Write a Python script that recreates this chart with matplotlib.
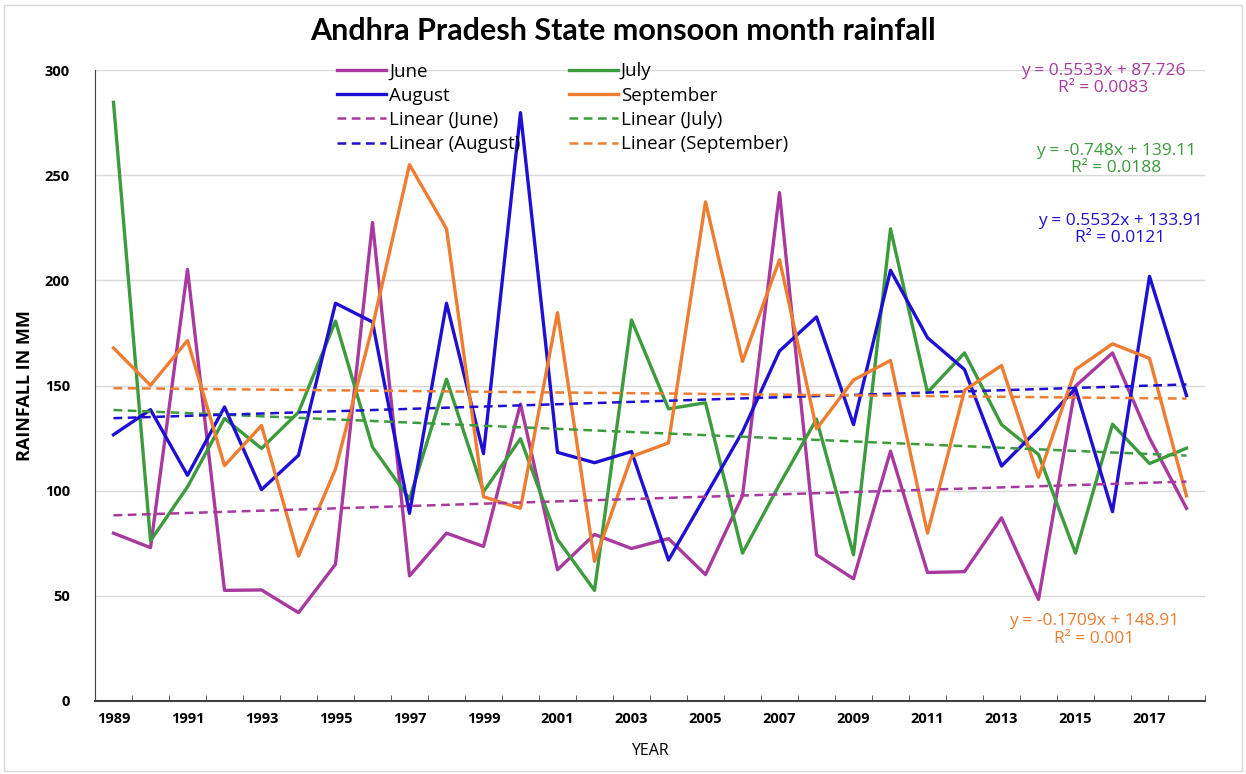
import numpy as np
import matplotlib
matplotlib.use('Agg')
import matplotlib.pyplot as plt
from matplotlib.patches import Rectangle

plt.rcParams['font.family'] = ['Open Sans', 'DejaVu Sans']

# Data
years = list(range(1989, 2019))
june = [79.8, 72.9, 205.2, 52.6, 52.8, 42.0, 65.0, 227.5, 59.5, 79.8,
        73.5, 141.2, 62.4, 79.2, 72.5, 77.2, 60.1, 97.5, 241.7, 69.5,
        58.1, 118.8, 61.1, 61.5, 87.1, 48.3, 149.7, 165.5, 125.0, 91.6]
july = [284.6, 76.2, 101.8, 134.3, 120.1, 137.3, 180.6, 120.7, 96.0, 153.0,
        99.5, 124.7, 76.8, 52.6, 181.2, 138.9, 141.8, 70.3, 103.0, 134.0,
        69.5, 224.5, 146.7, 165.5, 131.4, 117.2, 70.3, 131.6, 112.9, 120.2]
august = [126.6, 138.5, 107.3, 139.8, 100.5, 116.8, 189.1, 180.2, 89.2, 189.1,
          117.6, 279.7, 118.2, 113.3, 118.6, 67.0, 97.5, 128.0, 166.4, 182.6,
          131.4, 204.8, 172.7, 157.6, 111.7, 129.4, 148.7, 90.0, 201.9, 145.2]
september = [167.8, 150.1, 171.4, 111.9, 131.0, 68.9, 110.3, 178.0, 255.0, 224.5,
             97.1, 91.6, 184.6, 66.4, 116.2, 122.7, 237.3, 161.5, 209.8, 129.4,
             152.6, 161.9, 79.8, 147.7, 159.5, 106.4, 157.6, 169.8, 162.9, 97.5]

# Trendline coefficients (slope, intercept, R^2) as printed on the chart
months = ['June', 'July', 'August', 'September']
slopes = [0.5533, -0.748, 0.5532, -0.1709]
intercepts = [87.726, 139.11, 133.91, 148.91]
r2 = ['0.0083', '0.0188', '0.0121', '0.001']
slope_txt = ['0.5533', '-0.748', '0.5532', '-0.1709']
icpt_txt = ['87.726', '139.11', '133.91', '148.91']

colors = ['#A8399F', '#3C9B3C', '#1E0FD2', '#EE7D31']
series = [june, july, august, september]

fig = plt.figure(figsize=(12.46, 7.74), dpi=100)
ax = fig.add_axes([95 / 1246, 73 / 774, 1110 / 1246, 631 / 774])

# outer chart border
fig.patches.append(Rectangle((0.003, 0.004), 0.994, 0.99, transform=fig.transFigure,
                             fill=False, edgecolor='#d9d9d9', linewidth=1))

idx = np.arange(len(years))
solid = {}
trend = {}
for m, vals, c in zip(months, series, colors):
    solid[m], = ax.plot(idx, vals, color=c, linewidth=2.4, label=m, zorder=3)
for m, s, b, c in zip(months, slopes, intercepts, colors):
    xx = idx + 1
    trend[m], = ax.plot(idx, s * xx + b, color=c, linewidth=1.8, linestyle=(0, (3.5, 2.2)),
                        label=f'Linear ({m})', zorder=4)

# equation labels
eq_pos = [(26.74, 295.5), (27.1, 257.3), (27.2, 224.0), (26.5, 33.8)]
for (x, y), st, it, r, c in zip(eq_pos, slope_txt, icpt_txt, r2, colors):
    ax.text(x, y, f'y = {st}x + {it}\nR² = {r}', color=c, fontsize=12.5,
            ha='center', va='center', linespacing=1.1, zorder=5)

ax.set_xlim(-0.5, len(years) - 0.5)
ax.set_ylim(0, 300)
ax.set_yticks(range(0, 301, 50))
ax.set_xticks(idx[::2])
ax.set_xticklabels([str(y) for y in years[::2]], fontweight='bold', fontsize=10.5)
for lab in ax.get_yticklabels():
    lab.set_fontweight('bold')
    lab.set_fontsize(10.5)
ax.set_xticks(np.arange(0.5, len(years), 1), minor=True)
ax.tick_params(axis='x', which='major', length=0, pad=8)
ax.tick_params(axis='x', which='minor', direction='in', length=4, color='#404040')
ax.tick_params(axis='y', length=0, pad=18)
ax.grid(axis='y', color='#d9d9d9', linewidth=1)
ax.set_axisbelow(True)
for sp in ['top', 'right']:
    ax.spines[sp].set_visible(False)
ax.spines['left'].set_color('#404040')
ax.spines['bottom'].set_color('#404040')
ax.spines['bottom'].set_linewidth(1.5)

ax.set_ylabel('RAINFALL IN MM', fontweight='bold', fontsize=13, labelpad=8)
ax.set_xlabel('YEAR', fontsize=11.5, labelpad=12)
fig.suptitle('Andhra Pradesh State monsoon month rainfall', fontweight='bold',
             fontsize=22, y=0.978, family=['Lato', 'DejaVu Sans'])

handles = [solid['June'], solid['August'], trend['June'], trend['August'],
           solid['July'], solid['September'], trend['July'], trend['September']]
ax.legend(handles=handles, ncol=2, loc='upper left', bbox_to_anchor=(330 / 1246, 1 - 55 / 774),
          bbox_transform=fig.transFigure, frameon=False, fontsize=13.5,
          handlelength=2.6, handletextpad=0.15, labelspacing=0.33, columnspacing=2.6,
          borderaxespad=0)

plt.savefig('out.png', dpi=100)
plt.close()
